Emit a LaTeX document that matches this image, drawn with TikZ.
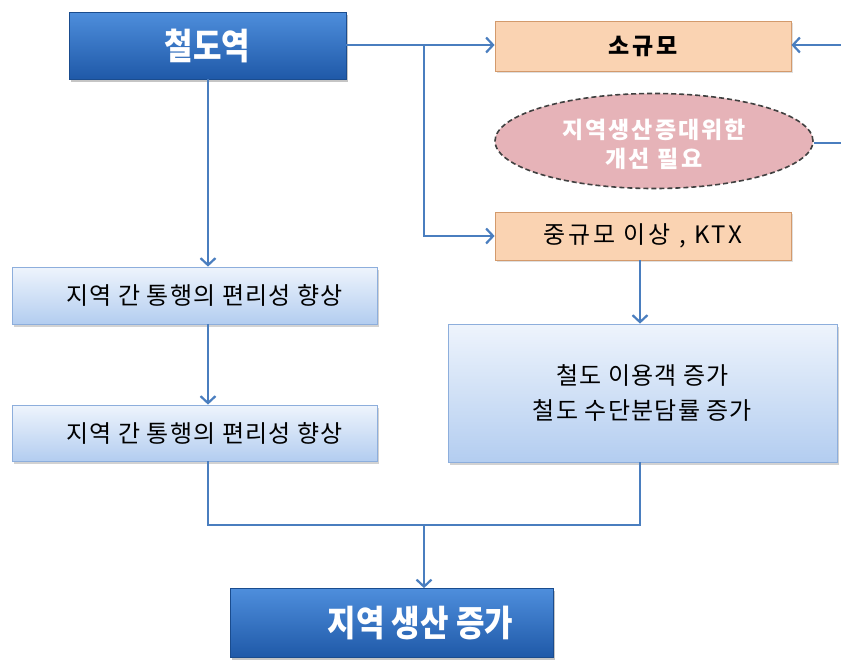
\documentclass[tikz,border=0pt]{standalone}
\usepackage{fontspec}
\setmainfont{Noto Sans CJK KR}
\newfontfamily\kdark[FakeStretch=0.86]{Noto Sans CJK KR}
\newfontfamily\klight[LetterSpace=5]{Noto Sans CJK KR}
\newfontfamily\korange[LetterSpace=12]{Noto Sans CJK KR}
\newfontfamily\ksmall[LetterSpace=14]{Noto Sans CJK KR}
\newfontfamily\kell[LetterSpace=9]{Noto Sans CJK KR}
\usetikzlibrary{arrows.meta,shapes.geometric,shadows}
\definecolor{lineblue}{HTML}{4A7EBF}
\definecolor{darktop}{HTML}{4E8EDC}
\definecolor{darkbot}{HTML}{1F59A8}
\definecolor{darkedge}{HTML}{1A4C8E}
\definecolor{lighttop}{HTML}{EEF4FC}
\definecolor{lightbot}{HTML}{B3CDF0}
\definecolor{lightedge}{HTML}{8DAEDC}
\definecolor{orangefill}{HTML}{FAD3B2}
\definecolor{orangeedge}{HTML}{D39A6C}
\definecolor{pinkfill}{HTML}{E6B3B8}
\tikzset{
  conn/.style={draw=lineblue, line width=2.4pt},
  arr/.style={conn, -{Straight Barb[length=7pt,width=15pt,line width=2.2pt]}},
  darkbox/.style={draw=darkedge, line width=0.8pt, top color=darktop, bottom color=darkbot,
    text=white, font=\kdark\fontsize{36}{40}\selectfont\bfseries, inner sep=0pt,
    drop shadow={shadow xshift=1.5pt, shadow yshift=-2.5pt, opacity=0.45}},
  lightbox/.style={draw=lightedge, line width=0.8pt, top color=lighttop, bottom color=lightbot,
    text=black, font=\klight\fontsize{24}{35}\selectfont, inner sep=0pt,
    drop shadow={shadow xshift=1.5pt, shadow yshift=-2.5pt, opacity=0.35}},
  orangebox/.style={draw=orangeedge, line width=0.8pt, fill=orangefill,
    text=black, font=\korange\fontsize{24}{26}\selectfont, inner sep=0pt,
    drop shadow={shadow xshift=1.5pt, shadow yshift=-2pt, opacity=0.25}},
  pinkell/.style={ellipse, draw=black!75, dash pattern=on 5pt off 3pt, line width=1.6pt,
    fill=pinkfill, inner sep=0pt},
  elltext/.style={text=white, font=\kell\fontsize{23}{29}\selectfont\bfseries, inner sep=0pt, align=center}
}
\begin{document}
\begin{tikzpicture}[x=1pt,y=-1pt]
\useasboundingbox (0,0) rectangle (841,659);
\clip (0,0) rectangle (841,659);
\fill[white] (0,0) rectangle (841,659);
% nodes
\node[darkbox, minimum width=277pt, minimum height=67pt] (station) at (207.5,45.5) {철도역};
\node[orangebox, minimum width=296pt, minimum height=50pt, font=\ksmall\fontsize{23}{26}\selectfont\bfseries] (small) at (643,46) {소규모};
\node[pinkell, minimum width=318pt, minimum height=95pt] (need) at (654,141) {};
\node[elltext] (needtext) at (654,144) {지역생산증대위한\\개선\hspace{8pt}필요};
\node[orangebox, minimum width=296pt, minimum height=48pt] (mid) at (643,236) {중규모 이상 , KTX};
\node[lightbox, minimum width=365pt, minimum height=57pt] (conv1) at (194.5,295.5) {\hspace*{20pt}지역 간 통행의 편리성 향상};
\node[lightbox, minimum width=365pt, minimum height=56pt] (conv2) at (194.5,433) {\hspace*{20pt}지역 간 통행의 편리성 향상};
\node[lightbox, minimum width=389pt, minimum height=138pt, align=center] (users) at (642.5,393)
  {철도 이용객 증가\\철도 수단분담률 증가};
\node[darkbox, minimum width=323pt, minimum height=69pt] (prod) at (391.5,623) {\hspace*{58pt}지역 생산 증가};
% helper coordinates
\coordinate (br) at (424,45);
\coordinate (brlow) at (424,236);
\coordinate (join) at (424,525);
\coordinate (jl) at (208,525);
\coordinate (jr) at (640,525);
\coordinate (rtop) at (850,45);
\coordinate (rmid) at (850,143);
% connectors
\draw[arr] (station.east |- br) -- (small.west |- br);
\draw[arr] (br) -- (brlow) -- (mid.west |- brlow);
\draw[arr] (station.south -| jl) -- (conv1.north -| jl);
\draw[arr] (conv1.south -| jl) -- (conv2.north -| jl);
\draw[conn] (conv2.south -| jl) -- (jl) -- (jr) -- (users.south -| jr);
\draw[arr] (join) -- (prod.north -| join);
\draw[arr] (mid.south -| jr) -- (users.north -| jr);
\draw[conn] (need.east |- rmid) -- (rmid) -- (rtop);
\draw[arr] (rtop) -- (small.east |- rtop);
\end{tikzpicture}
\end{document}
